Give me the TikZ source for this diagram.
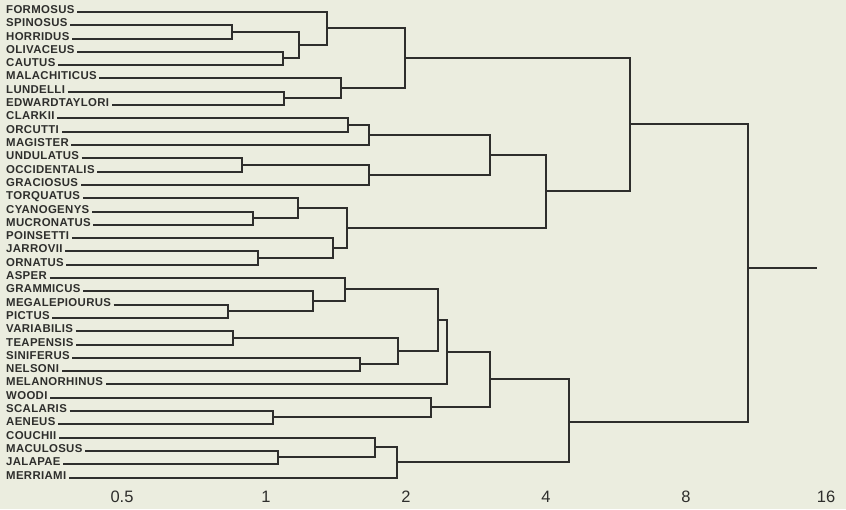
\documentclass[tikz,border=0pt]{standalone}
\usepackage{fontspec}
\setmainfont{Liberation Sans}
\newfontfamily\labfont{Liberation Sans}[LetterSpace=3]
\definecolor{paper}{RGB}{235,237,223}
\definecolor{ink}{RGB}{46,46,44}

\begin{document}
\begin{tikzpicture}[x=1pt,y=-1pt,
  leaf/.style={anchor=west, inner xsep=2.5pt, inner ysep=0pt,
    text height=8.5pt, text depth=5.1pt, text=ink,
    font=\labfont\bfseries\fontsize{11.4pt}{13pt}\selectfont},
  branch/.style={draw=ink, line width=2pt},
  tick/.style={text=ink, inner sep=0pt, font=\fontsize{16.5pt}{18pt}\selectfont}]

% paper
\fill[paper] (0,0) rectangle (846,509);
\useasboundingbox (0,0) rectangle (846,509);

% species
\node[leaf] (formosus)      at (3.5,12)  {FORMOSUS};
\node[leaf] (spinosus)      at (3.5,25)  {SPINOSUS};
\node[leaf] (horridus)      at (3.5,39)  {HORRIDUS};
\node[leaf] (olivaceus)     at (3.5,52)  {OLIVACEUS};
\node[leaf] (cautus)        at (3.5,65)  {CAUTUS};
\node[leaf] (malachiticus)  at (3.5,78)  {MALACHITICUS};
\node[leaf] (lundelli)      at (3.5,92)  {LUNDELLI};
\node[leaf] (edwardtaylori) at (3.5,105) {EDWARDTAYLORI};
\node[leaf] (clarkii)       at (3.5,118) {CLARKII};
\node[leaf] (orcutti)       at (3.5,132) {ORCUTTI};
\node[leaf] (magister)      at (3.5,145) {MAGISTER};
\node[leaf] (undulatus)     at (3.5,158) {UNDULATUS};
\node[leaf] (occidentalis)  at (3.5,172) {OCCIDENTALIS};
\node[leaf] (graciosus)     at (3.5,185) {GRACIOSUS};
\node[leaf] (torquatus)     at (3.5,198) {TORQUATUS};
\node[leaf] (cyanogenys)    at (3.5,212) {CYANOGENYS};
\node[leaf] (mucronatus)    at (3.5,225) {MUCRONATUS};
\node[leaf] (poinsetti)     at (3.5,238) {POINSETTI};
\node[leaf] (jarrovii)      at (3.5,251) {JARROVII};
\node[leaf] (ornatus)       at (3.5,265) {ORNATUS};
\node[leaf] (asper)         at (3.5,278) {ASPER};
\node[leaf] (grammicus)     at (3.5,291) {GRAMMICUS};
\node[leaf] (megalepiourus) at (3.5,305) {MEGALEPIOURUS};
\node[leaf] (pictus)        at (3.5,318) {PICTUS};
\node[leaf] (variabilis)    at (3.5,331) {VARIABILIS};
\node[leaf] (teapensis)     at (3.5,345) {TEAPENSIS};
\node[leaf] (siniferus)     at (3.5,358) {SINIFERUS};
\node[leaf] (nelsoni)       at (3.5,371) {NELSONI};
\node[leaf] (melanorhinus)  at (3.5,384) {MELANORHINUS};
\node[leaf] (woodi)         at (3.5,398) {WOODI};
\node[leaf] (scalaris)      at (3.5,411) {SCALARIS};
\node[leaf] (aeneus)        at (3.5,424) {AENEUS};
\node[leaf] (couchii)       at (3.5,438) {COUCHII};
\node[leaf] (maculosus)     at (3.5,451) {MACULOSUS};
\node[leaf] (jalapae)       at (3.5,464) {JALAPAE};
\node[leaf] (merriami)      at (3.5,478) {MERRIAMI};

% join points of the upper cluster
\coordinate (sh)    at (232,32);
\coordinate (oc)    at (283,58);
\coordinate (sho)   at (299,45);
\coordinate (fsho)  at (327,28);
\coordinate (le)    at (284,98);
\coordinate (mle)   at (341,88);
\coordinate (grpA)  at (405,58);
\coordinate (co)    at (348,125);
\coordinate (com)   at (369,135);
\coordinate (uo)    at (242,165);
\coordinate (uog)   at (369,175);
\coordinate (grpB)  at (490,155);
\coordinate (cm)    at (253,218);
\coordinate (tcm)   at (298,208);
\coordinate (jo)    at (258,258);
\coordinate (pjo)   at (333,248);
\coordinate (grpC)  at (347,228);
\coordinate (grpBC) at (546,191);
\coordinate (upper) at (630,124);

% join points of the lower cluster
\coordinate (mp)    at (228,311);
\coordinate (gmp)   at (313,301);
\coordinate (agmp)  at (345,289);
\coordinate (vt)    at (233,338);
\coordinate (sn)    at (360,364);
\coordinate (vtsn)  at (398,351);
\coordinate (grpD)  at (438,320);
\coordinate (grpDm) at (447,352);
\coordinate (sa)    at (273,417);
\coordinate (wsa)   at (431,407);
\coordinate (grpE)  at (490,379);
\coordinate (mj)    at (278,457);
\coordinate (cmj)   at (375,447);
\coordinate (grpF)  at (397,462);
\coordinate (lower) at (569,422);

\coordinate (root) at (748,268);
\coordinate (tip)  at (817,268);

% upper cluster
\draw[branch] (spinosus.east) -| (sh) |- (horridus.east);
\draw[branch] (olivaceus.east) -| (oc) |- (cautus.east);
\draw[branch] (sh) -| (sho) |- (oc);
\draw[branch] (formosus.east) -| (fsho) |- (sho);
\draw[branch] (lundelli.east) -| (le) |- (edwardtaylori.east);
\draw[branch] (malachiticus.east) -| (mle) |- (le);
\draw[branch] (fsho) -| (grpA) |- (mle);
\draw[branch] (clarkii.east) -| (co) |- (orcutti.east);
\draw[branch] (co) -| (com) |- (magister.east);
\draw[branch] (undulatus.east) -| (uo) |- (occidentalis.east);
\draw[branch] (uo) -| (uog) |- (graciosus.east);
\draw[branch] (com) -| (grpB) |- (uog);
\draw[branch] (cyanogenys.east) -| (cm) |- (mucronatus.east);
\draw[branch] (torquatus.east) -| (tcm) |- (cm);
\draw[branch] (jarrovii.east) -| (jo) |- (ornatus.east);
\draw[branch] (poinsetti.east) -| (pjo) |- (jo);
\draw[branch] (tcm) -| (grpC) |- (pjo);
\draw[branch] (grpB) -| (grpBC) |- (grpC);
\draw[branch] (grpA) -| (upper) |- (grpBC);

% lower cluster
\draw[branch] (megalepiourus.east) -| (mp) |- (pictus.east);
\draw[branch] (grammicus.east) -| (gmp) |- (mp);
\draw[branch] (asper.east) -| (agmp) |- (gmp);
\draw[branch] (variabilis.east) -| (vt) |- (teapensis.east);
\draw[branch] (siniferus.east) -| (sn) |- (nelsoni.east);
\draw[branch] (vt) -| (vtsn) |- (sn);
\draw[branch] (agmp) -| (grpD) |- (vtsn);
\draw[branch] (grpD) -| (grpDm) |- (melanorhinus.east);
\draw[branch] (scalaris.east) -| (sa) |- (aeneus.east);
\draw[branch] (woodi.east) -| (wsa) |- (sa);
\draw[branch] (grpDm) -| (grpE) |- (wsa);
\draw[branch] (maculosus.east) -| (mj) |- (jalapae.east);
\draw[branch] (couchii.east) -| (cmj) |- (mj);
\draw[branch] (cmj) -| (grpF) |- (merriami.east);
\draw[branch] (grpE) -| (lower) |- (grpF);

% root
\draw[branch] (upper) -| (root) |- (lower);
\draw[branch] (root) -- (tip);

% distance scale
\node[tick] (s05) at (122,497) {0.5};
\node[tick] (s1)  at (266,497) {1};
\node[tick] (s2)  at (406,497) {2};
\node[tick] (s4)  at (546,497) {4};
\node[tick] (s8)  at (686,497) {8};
\node[tick] (s16) at (826,497) {16};
\end{tikzpicture}
\end{document}
